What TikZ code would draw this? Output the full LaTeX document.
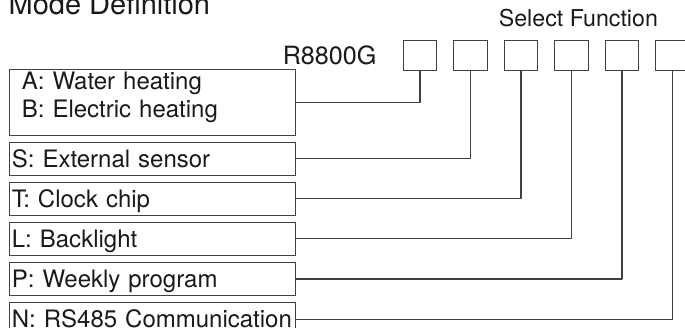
\documentclass[tikz,border=0pt]{standalone}
\usepackage{fontspec}
\setmainfont{TeX Gyre Heros}
\usetikzlibrary{positioning}
\begin{document}
\begin{tikzpicture}[font=\fontsize{13.66}{16.15}\selectfont, line join=round, line cap=round,
	fbox/.style={draw=black!75, line width=.6pt, minimum width=.67cm, minimum height=.6cm, inner sep=0},
	mode/.style={draw=black!75, line width=.6pt, anchor=west, text width=5.64cm, inner xsep=.04cm, inner ysep=0,
		minimum height=.65cm, text height=.35cm, text depth=0pt, text=black!90},
	lbl/.style={inner sep=0, text height=.35cm, text depth=0pt, text=black!90},
	wire/.style={black!75, line width=.6pt}]
	\def\p{1.01}
	\useasboundingbox (0,0) rectangle (13.7,-6.56);
	
	\node[lbl, anchor=base west, font=\fontsize{16.5}{19}\selectfont] (title) at (.166,-.3) {Mode Definition};
	\node[lbl, anchor=base west, font=\fontsize{13.2}{16}\selectfont] (sel) at (9.97,-.534) {Select Function};
	
	%Các ô chọn chức năng
	\foreach \i in {1,...,6}
	\node[fbox] (f\i) at ({8.4+(\i-1)*\p},-1.114) {};
	\node[lbl, left=.52cm of f1, font=\fontsize{14.3}{17}\selectfont] (model) {R8800G};
	
	%Các hộp chú thích
	\node[mode, align=left, text width=5.24cm, inner xsep=.24cm, minimum height=1.314cm,
		text height=.4cm, text depth=.914cm] (ab) at (.186,-2.044) {A: Water heating\\B: Electric heating};
	\node[mode, below=.13cm of ab] (s) {S: External sensor};
	\node[mode, below=.13cm of s] (t) {T: Clock chip};
	\node[mode, below=.13cm of t] (l) {L: Backlight};
	\node[mode, below=.13cm of l] (w) {P: Weekly program};
	\node[mode, below=.13cm of w] (n) {N: RS485 Communication};
	
	\foreach \m/\i in {ab/1,s/2,t/3,l/4,w/5,n/6}
	\draw[wire] (\m.east) -| (f\i.south);
\end{tikzpicture}
\end{document}
